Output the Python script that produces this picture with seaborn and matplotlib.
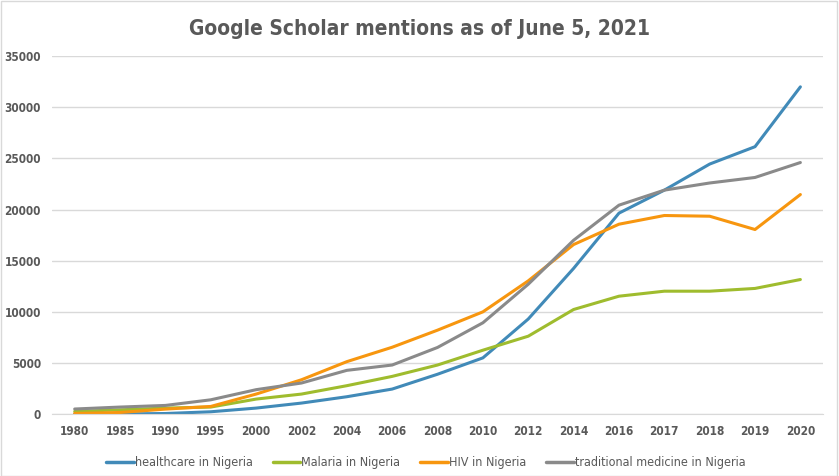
import matplotlib
matplotlib.use("Agg")
import matplotlib.pyplot as plt
import seaborn as sns
import pandas as pd

# data
years = ['1980', '1985', '1990', '1995', '2000', '2002', '2004', '2006', '2008',
         '2010', '2012', '2014', '2016', '2017', '2018', '2019', '2020']
healthcare = [0, 20, 60, 230, 590, 1080, 1700, 2450, 3900,
              5500, 9300, 14250, 19650, 21900, 24450, 26150, 32000]
malaria = [260, 420, 590, 690, 1470, 1960, 2780, 3690, 4800,
           6250, 7620, 10230, 11530, 12020, 12020, 12290, 13160]
hiv = [65, 160, 490, 750, 1960, 3360, 5130, 6540, 8210,
       10000, 13030, 16580, 18570, 19420, 19350, 18050, 21470]
traditional = [500, 690, 850, 1400, 2390, 3040, 4280, 4800, 6520,
               8930, 12700, 17000, 20430, 21900, 22600, 23140, 24600]

names = ['healthcare in Nigeria', 'Malaria in Nigeria', 'HIV in Nigeria',
         'traditional medicine in Nigeria']
colors = ['#418AB8', '#9FBC2E', '#F7960F', '#8A8A8A']

df = pd.DataFrame({'year': years, names[0]: healthcare, names[1]: malaria,
                   names[2]: hiv, names[3]: traditional})
long = df.melt(id_vars='year', var_name='series', value_name='mentions')

sns.set_style('white')
plt.rcParams['font.family'] = ['DejaVu Sans']

fig = plt.figure(figsize=(8.39, 4.76), dpi=100)
ax = fig.add_axes([0.062, 0.130, 0.919, 0.752])

sns.lineplot(data=long, x='year', y='mentions', hue='series', palette=colors,
             linewidth=2.2, sort=False, ax=ax)

ax.set_xlim(-0.5, len(years) - 0.5)
ax.set_ylim(0, 35000)
ax.set_yticks(range(0, 35001, 5000))
ax.yaxis.grid(True, color='#D9D9D9', linewidth=1)
ax.set_axisbelow(True)
for s in ['top', 'right', 'left']:
    ax.spines[s].set_visible(False)
ax.spines['bottom'].set_color('#D9D9D9')
ax.tick_params(axis='both', length=0, labelsize=8.5, colors='#595959', pad=8)
for lab in ax.get_xticklabels() + ax.get_yticklabels():
    lab.set_fontstretch('condensed')
    lab.set_fontweight('bold')
ax.set_xlabel('')
ax.set_ylabel('')

fig.suptitle('Google Scholar mentions as of June 5, 2021', y=0.96, fontsize=15,
             fontweight='bold', color='#595959', fontstretch='condensed')

leg = ax.legend(loc='center', bbox_to_anchor=(0.485, -0.135), ncol=4,
                frameon=False, handlelength=2.2, handletextpad=0.1,
                columnspacing=1.6, prop={'size': 9, 'stretch': 'condensed'})
for t in leg.get_texts():
    t.set_color('#595959')
for line in leg.get_lines():
    line.set_linewidth(2.5)

fig.patches.append(plt.Rectangle((0.001, 0.001), 0.997, 0.997, transform=fig.transFigure,
                                 fill=False, edgecolor='#D9D9D9', linewidth=1))

fig.savefig('out.png', dpi=100)
